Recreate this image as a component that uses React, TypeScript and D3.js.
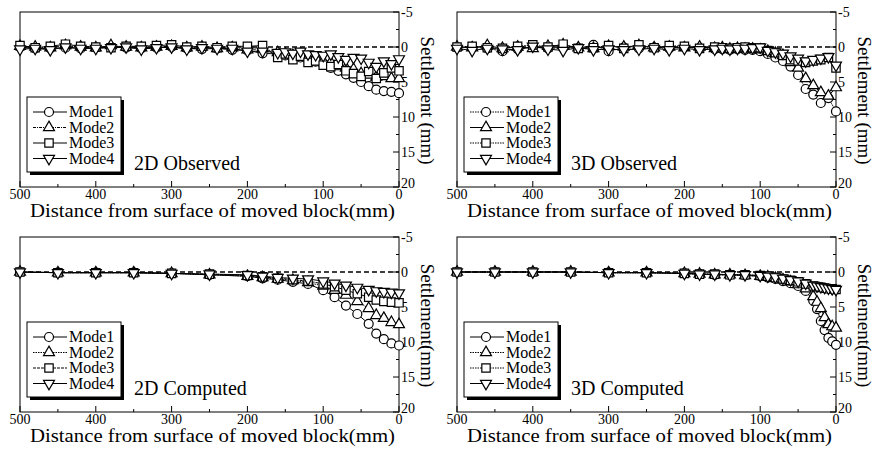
import React, { useEffect, useRef } from 'react';
import * as d3 from 'd3';

// distances (mm) at which settlement was read
const distObs = [500, 480, 460, 440, 420, 400, 380, 360, 340, 320, 300, 280, 260, 240, 220, 200, 180, 160, 150, 140, 130, 120, 110, 100, 90, 80, 70, 60, 50, 40, 30, 20, 10, 0];
const dist2dComp = [500, 450, 400, 350, 300, 250, 200, 180, 160, 140, 120, 100, 85, 70, 55, 40, 30, 20, 10, 0];
const dist3dComp = [500, 450, 400, 350, 300, 250, 200, 180, 160, 140, 120, 100, 90, 80, 70, 60, 50, 40, 30, 25, 20, 15, 10, 5, 0];

// 2D observed
const obs2dMode1 = [0.0, 0.2, 0.2, 0.1, 0.2, 0.1, 0.0, 0.1, 0.2, 0.1, 0.0, 0.2, 0.3, 0.2, 0.4, 0.5, 0.9, 1.0, 1.2, 1.4, 1.5, 1.8, 2.1, 2.5, 3.0, 3.4, 3.9, 4.4, 5.0, 5.6, 6.1, 6.3, 6.4, 6.6];
const obs2dMode2 = [-0.1, 0.0, 0.1, -0.2, 0.0, 0.1, -0.2, 0.0, 0.1, 0.0, -0.1, 0.1, 0.0, 0.2, 0.1, 0.4, 0.2, 0.8, 1.0, 1.2, 1.0, 1.5, 1.6, 2.0, 2.2, 2.8, 3.0, 3.2, 3.8, 4.0, 4.3, 4.2, 4.5, 4.5];
const obs2dMode3 = [-0.2, 0.1, -0.1, -0.4, -0.1, 0.0, 0.1, -0.1, -0.1, -0.2, -0.3, 0.0, -0.1, 0.1, -0.1, -0.1, -0.2, 1.5, 1.0, 1.8, 1.3, 2.2, 2.0, 2.6, 2.8, 2.5, 3.4, 3.8, 4.2, 3.5, 4.5, 3.7, 3.0, 3.4];
const obs2dMode4 = [0.3, 0.2, 0.4, 0.0, 0.2, 0.2, 0.1, 0.0, 0.3, 0.1, 0.0, 0.3, 0.1, 0.2, 0.2, 0.6, 0.6, 0.8, 0.7, 0.9, 0.6, 1.0, 1.1, 1.2, 1.0, 1.4, 1.8, 1.5, 1.6, 2.2, 2.8, 2.0, 2.4, 1.7];

// 3D observed
const obs3dMode1 = [0.1, 0.0, 0.2, 0.6, 0.3, 0.0, 0.2, 0.1, 0.2, -0.3, 0.6, 0.1, 0.2, 0.1, 0.2, 0.0, 0.2, 0.3, 0.3, 0.4, 0.3, 0.4, 0.4, 0.6, 1.0, 1.5, 2.0, 2.8, 4.0, 6.0, 6.8, 8.0, 7.3, 9.2];
const obs3dMode2 = [0.0, 0.1, -0.2, 0.2, 0.0, 0.2, -0.1, -0.3, 0.1, 0.2, -0.1, 0.0, -0.2, 0.1, 0.0, 0.1, 0.0, 0.2, 0.1, 0.3, 0.2, 0.3, 0.3, 0.4, 0.6, 0.9, 1.2, 2.2, 3.0, 4.5, 5.5, 6.5, 7.0, 5.8];
const obs3dMode3 = [0.0, -0.1, 0.1, 0.2, -0.1, -0.3, 0.0, -0.4, 0.2, 0.1, -0.2, 0.2, -0.3, 0.1, -0.2, -0.1, 0.2, 0.0, 0.1, 0.2, 0.1, 0.0, 0.1, 0.1, 0.5, 0.8, 1.2, 1.8, 2.0, 2.2, 2.0, 1.8, 1.5, 3.0];
const obs3dMode4 = [0.2, 0.5, 0.2, 0.3, 0.4, -0.1, 0.3, 0.5, 0.1, 0.4, 0.3, 0.4, 0.3, 0.2, 0.4, 0.2, 0.4, 0.3, 0.2, 0.3, 0.2, 0.2, 0.1, 0.0, 0.5, 0.7, 0.9, 1.3, 1.6, 2.0, 1.8, 1.6, 1.4, 2.6];

// 2D computed
const comp2dMode1 = [0.0, 0.1, 0.1, 0.1, 0.2, 0.4, 0.6, 0.9, 1.1, 1.4, 1.7, 2.6, 3.6, 4.8, 6.0, 7.4, 8.8, 9.6, 10.2, 10.5];
const comp2dMode2 = [0.0, 0.1, 0.1, 0.1, 0.2, 0.4, 0.6, 0.8, 1.0, 1.2, 1.5, 2.0, 2.6, 3.3, 4.2, 5.2, 6.2, 6.6, 7.2, 7.5];
const comp2dMode3 = [0.0, 0.1, 0.1, 0.1, 0.2, 0.3, 0.5, 0.7, 0.9, 1.1, 1.3, 1.7, 2.1, 2.6, 3.1, 3.6, 4.0, 4.2, 4.3, 4.4];
const comp2dMode4 = [0.0, 0.1, 0.1, 0.1, 0.2, 0.3, 0.4, 0.6, 0.8, 0.9, 1.0, 1.3, 1.6, 1.9, 2.2, 2.5, 2.7, 2.8, 2.9, 3.0];

// 3D computed
const comp3dMode1 = [0, 0, 0, 0, 0.1, 0.1, 0.2, 0.3, 0.4, 0.4, 0.5, 0.6, 0.8, 1.0, 1.3, 1.6, 2.0, 2.7, 4.1, 5.3, 7.0, 8.3, 9.4, 9.9, 10.4];
const comp3dMode2 = [0, 0, 0, 0, 0.1, 0.1, 0.2, 0.3, 0.4, 0.4, 0.5, 0.6, 0.7, 0.9, 1.1, 1.4, 1.8, 2.4, 3.5, 4.3, 5.2, 6.5, 7.5, 7.8, 8.0];
const comp3dMode3 = [0, 0, 0, 0, 0.1, 0.1, 0.2, 0.3, 0.3, 0.4, 0.4, 0.5, 0.6, 0.8, 1.0, 1.2, 1.4, 1.7, 2.0, 2.1, 2.2, 2.3, 2.4, 2.4, 2.5];
const comp3dMode4 = [0, 0, 0, 0, 0.1, 0.1, 0.2, 0.3, 0.3, 0.4, 0.4, 0.5, 0.6, 0.7, 0.9, 1.1, 1.3, 1.6, 1.9, 2.0, 2.1, 2.2, 2.3, 2.4, 2.5];

const modeNames = ['Mode1', 'Mode2', 'Mode3', 'Mode4'];
const xTicks = [500, 400, 300, 200, 100, 0];
const yTicks = [-5, 0, 5, 10, 15, 20];

const panels = [
  { title: '2D Observed', xs: distObs, ys: [obs2dMode1, obs2dMode2, obs2dMode3, obs2dMode4], yLabel: 'Settlement (mm)', left: 20, top: 12, dashes: [null, '3,1,1,1', null, null] },
  { title: '3D Observed', xs: distObs, ys: [obs3dMode1, obs3dMode2, obs3dMode3, obs3dMode4], yLabel: 'Settlement (mm)', left: 457, top: 12, dashes: ['1.5,1', null, '1.5,1', null] },
  { title: '2D Computed', xs: dist2dComp, ys: [comp2dMode1, comp2dMode2, comp2dMode3, comp2dMode4], yLabel: 'Settlement(mm)', left: 20, top: 237, dashes: [null, '1.5,1', '3,1', null] },
  { title: '3D Computed', xs: dist3dComp, ys: [comp3dMode1, comp3dMode2, comp3dMode3, comp3dMode4], yLabel: 'Settlement(mm)', left: 457, top: 237, dashes: [null, '1.5,1', '1.5,1', null] },
];

const FONT = 'Liberation Serif';

const drawMarker = (g, mode, x, y) => {
  if (mode === 0) {
    g.append('circle').attr('cx', x).attr('cy', y).attr('r', 4.5)
      .attr('fill', 'white').attr('stroke', 'black').attr('stroke-width', 1.2);
    return;
  }
  const sym = mode === 2 ? d3.symbolSquare : d3.symbolTriangle;
  const size = mode === 2 ? 70 : 52;
  const rot = mode === 3 ? 180 : 0;
  g.append('path')
    .attr('d', d3.symbol().type(sym).size(size)())
    .attr('transform', `translate(${x},${y}) rotate(${rot})`)
    .attr('fill', 'white').attr('stroke', 'black').attr('stroke-width', 1.2);
};

const App = () => {
  const svgRef = useRef(null);

  useEffect(() => {
    const width = 379;
    const height = 175;

    const root = d3.select(svgRef.current);
    root.selectAll('*').remove();

    panels.forEach(p => {
      const svg = root.append('g').attr('transform', `translate(${p.left},${p.top})`)
        .attr('font-family', FONT);

      const xScale = d3.scaleLinear().domain([500, 0]).range([0, width]);
      const yScale = d3.scaleLinear().domain([-5, 20]).range([0, height]);

      // frame
      svg.append('rect')
        .attr('x', 0).attr('y', 0).attr('width', width).attr('height', height)
        .attr('fill', 'none').attr('stroke', 'black').attr('stroke-width', 1);

      // x ticks (inward)
      d3.range(500, -1, -50).forEach(t => {
        const major = t % 100 === 0;
        svg.append('line')
          .attr('x1', xScale(t)).attr('x2', xScale(t))
          .attr('y1', height).attr('y2', height - (major ? 6 : 3))
          .attr('stroke', 'black');
      });
      xTicks.forEach(t => {
        svg.append('text')
          .attr('x', xScale(t)).attr('y', height + 12)
          .attr('text-anchor', 'middle')
          .attr('font-size', 14)
          .text(t);
      });

      // y ticks on the right (inward)
      d3.range(-5, 20.1, 2.5).forEach(t => {
        const major = t % 5 === 0;
        svg.append('line')
          .attr('x1', width).attr('x2', width - (major ? 6 : 3))
          .attr('y1', yScale(t)).attr('y2', yScale(t))
          .attr('stroke', 'black');
      });
      yTicks.forEach(t => {
        svg.append('text')
          .attr('x', width + 2).attr('y', yScale(t) + (t === 20 ? 1 : 5))
          .attr('text-anchor', 'start')
          .attr('font-size', 14)
          .text(t);
      });

      // zero line
      svg.append('line')
        .attr('x1', 0).attr('x2', width)
        .attr('y1', yScale(0)).attr('y2', yScale(0))
        .attr('stroke', 'black').attr('stroke-width', 1.5)
        .attr('stroke-dasharray', '5,3');

      // series
      p.ys.forEach((vals, m) => {
        const pts = p.xs.map((d, i) => [xScale(d), yScale(vals[i])]);
        svg.append('path')
          .attr('d', d3.line()(pts))
          .attr('fill', 'none').attr('stroke', 'black').attr('stroke-width', 1)
          .attr('stroke-dasharray', p.dashes[m]);
      });
      p.ys.forEach((vals, m) => {
        p.xs.forEach((d, i) => drawMarker(svg, m, xScale(d), yScale(vals[i])));
      });

      // legend
      const lg = svg.append('g').attr('transform', 'translate(7,85)');
      lg.append('rect').attr('x', 3).attr('y', 3).attr('width', 94).attr('height', 75).attr('fill', 'black');
      lg.append('rect').attr('x', 0).attr('y', 0).attr('width', 94).attr('height', 75)
        .attr('fill', 'white').attr('stroke', 'black').attr('stroke-width', 1);
      modeNames.forEach((name, m) => {
        const y = 15 + m * 15.5;
        lg.append('line').attr('x1', 6).attr('x2', 40).attr('y1', y).attr('y2', y)
          .attr('stroke', 'black').attr('stroke-width', 1)
          .attr('stroke-dasharray', p.dashes[m]);
        drawMarker(lg, m, 22, y);
        lg.append('text').attr('x', 42).attr('y', y + 5)
          .attr('font-size', 16)
          .text(name);
      });

      // panel label
      svg.append('text')
        .attr('x', 114).attr('y', 158)
        .attr('font-size', 20)
        .text(p.title);

      // axis titles
      svg.append('text')
        .attr('x', 10).attr('y', height + 30)
        .attr('font-size', 18)
        .attr('textLength', 365).attr('lengthAdjust', 'spacingAndGlyphs')
        .text('Distance from surface of moved block(mm)');

      svg.append('text')
        .attr('transform', `translate(${width + 22},${height / 2 + 1}) rotate(90)`)
        .attr('text-anchor', 'middle')
        .attr('font-size', 19)
        .text(p.yLabel);
    });
  }, []);

  return (
    <svg ref={svgRef} width={887} height={454}
      style={{ position: 'absolute', left: 0, top: 0, background: 'white' }}></svg>
  );
};

export default App;
